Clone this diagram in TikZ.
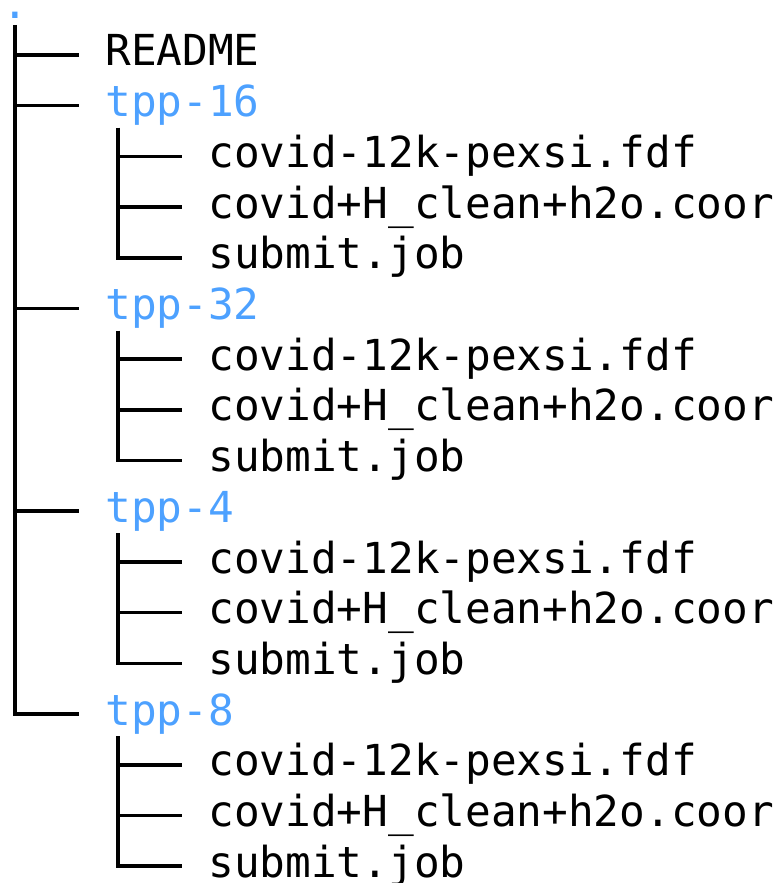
\documentclass[tikz,border=0pt]{standalone}
\usepackage{fontspec}
\setmonofont{DejaVu Sans Mono}
\definecolor{dirblue}{RGB}{77,161,255}
\tikzset{
  entry/.style={anchor=base west,inner sep=0pt,
    font=\ttfamily\fontsize{21.35pt}{25pt}\selectfont,
    text height=16.2pt,text depth=5.1pt},
  dir/.style={entry,text=dirblue},
  tree/.style={line width=1.8pt},
}
\begin{document}
\begin{tikzpicture}[x=0.5pt,y=-0.5pt]
  \useasboundingbox (0,0) rectangle (780,883);
  % Root and top level
  \node[dir,text height=4pt,text depth=0pt] (root) at (2,19) {.};
  \node[entry] (readme) at (105,66) {README};
  % Run folders, three files each
  \foreach \d/\r [count=\i] in {16/1,32/5,4/9,8/13} {
    \node[dir] (dir\i) at (105,{66+50.7*\r}) {tpp-\d};
    \node[entry] (fdf\i) at (208,{66+50.7*(\r+1)}) {covid-12k-pexsi.fdf};
    \node[entry] (coor\i) at (208,{66+50.7*(\r+2)}) {covid+H\_clean+h2o.coor};
    \node[entry] (job\i) at (208,{66+50.7*(\r+3)}) {submit.job};
  }
  % Trunk
  \draw[tree] ([xshift=6.4pt,yshift=-3pt]root.base west) |- ([xshift=-12.85pt]dir4.west);
  \foreach \n in {readme,dir1,dir2,dir3}
    \draw[tree] ([xshift=6.4pt]root.west |- \n.west) -- ([xshift=-12.85pt]\n.west);
  % Branches inside each folder
  \foreach \i in {1,...,4} {
    \draw[tree] ([xshift=6.4pt,yshift=-5.5pt]dir\i.base west) |- ([xshift=-12.85pt]job\i.west);
    \draw[tree] ([xshift=6.4pt]dir\i.west |- fdf\i.west) -- ([xshift=-12.85pt]fdf\i.west);
    \draw[tree] ([xshift=6.4pt]dir\i.west |- coor\i.west) -- ([xshift=-12.85pt]coor\i.west);
  }
\end{tikzpicture}
\end{document}
